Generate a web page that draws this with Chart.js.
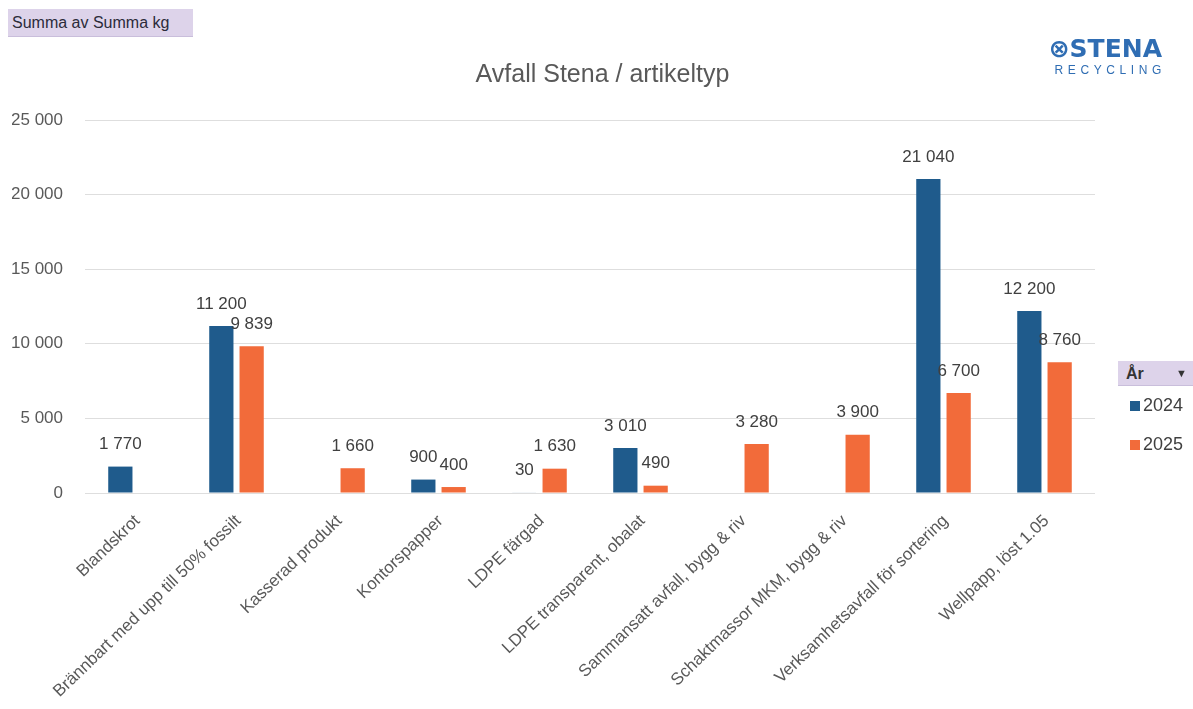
<!DOCTYPE html>
<html><head><meta charset="utf-8">
<script src="https://cdn.jsdelivr.net/npm/chart.js@4.4.1/dist/chart.umd.min.js"></script>
<style>
html,body{margin:0;padding:0;background:#fff;}
#wrap{position:relative;width:1193px;height:709px;font-family:"Liberation Sans",Arial,sans-serif;}
canvas{position:absolute;left:0;top:0;}
.btn{position:absolute;background:#ddd3ea;color:#2b2b3a;font-size:16px;border-bottom:1px solid #c9bedb;}
#logo{position:absolute;left:1040px;top:36px;width:122px;text-align:right;color:#2f6db3;}
#logo .a{font-size:25px;font-weight:bold;line-height:26px;font-family:"DejaVu Sans",sans-serif;}
#logo .b{font-size:12px;letter-spacing:4.6px;line-height:16px;margin-right:-4px;}
.leg{position:absolute;left:1130px;font-size:18px;color:#404040;}
.leg span{display:inline-block;width:10px;height:10px;margin-right:3px;}
</style></head>
<body><div id="wrap">
<canvas id="c" width="1193" height="709"></canvas>
<div class="btn" style="left:8px;top:9px;width:185px;height:28px;line-height:28px;padding-left:4px;box-sizing:border-box;">Summa av Summa kg</div>
<div id="logo"><div class="a">⊗STENA</div><div class="b">RECYCLING</div></div>
<div class="btn" style="left:1118px;top:361px;width:75px;height:25px;line-height:25px;box-sizing:border-box;padding-left:8px;font-weight:bold;color:#333;">År<span style="position:absolute;right:6px;font-size:11px;font-weight:normal;">▼</span></div>
<div id="legend"></div>
</div>
<script>
const categories = ["Blandskrot","Brännbart med upp till 50% fossilt","Kasserad produkt","Kontorspapper","LDPE färgad","LDPE transparent, obalat","Sammansatt avfall, bygg & riv","Schaktmassor MKM, bygg & riv","Verksamhetsavfall för sortering","Wellpapp, löst 1.05"];
const seriesNames = ["2024","2025"];
const values2024 = [1770,11200,null,900,30,3010,null,null,21040,12200];
const values2025 = [null,9839,1660,400,1630,490,3280,3900,6700,8760];
const yTicks = [0,5000,10000,15000,20000,25000];
const colors = ["#1f5b8c","#f26b3a"];

function fmtTick(v){return String(v).replace(/\B(?=(\d{3})+(?!\d))/g," ");}

const legendEl=document.getElementById('legend');
seriesNames.forEach((n,i)=>{
  const d=document.createElement('div');d.className='leg';d.style.top=(395+i*39)+'px';
  d.innerHTML='<span style="background:'+colors[i]+'"></span>'+n;legendEl.appendChild(d);
});

const valueLabels={id:'valueLabels',afterDatasetsDraw(chart){
  const ctx=chart.ctx;ctx.save();
  ctx.font='17px "Liberation Sans", Arial, sans-serif';ctx.fillStyle='#404040';
  ctx.textAlign='center';ctx.textBaseline='middle';
  chart.data.datasets.forEach((ds,di)=>{
    const meta=chart.getDatasetMeta(di);
    meta.data.forEach((bar,i)=>{
      const v=ds.data[i]; if(v===null||v===undefined) return;
      ctx.fillText(fmtTick(v),bar.x,bar.y-22);
    });
  });
  ctx.restore();
}};

const FONT='"Liberation Sans", Arial, sans-serif';
new Chart(document.getElementById('c'),{
  type:'bar',
  data:{labels:categories,datasets:[
    {label:seriesNames[0],data:values2024,backgroundColor:colors[0]},
    {label:seriesNames[1],data:values2025,backgroundColor:colors[1]}
  ]},
  options:{
    responsive:false,animation:false,
    layout:{padding:{left:12,right:0,top:0,bottom:0}},
    datasets:{bar:{categoryPercentage:0.6,barPercentage:0.8}},
    plugins:{
      legend:{display:false},tooltip:{enabled:false},
      title:{display:true,text:'Avfall Stena / artikeltyp',color:'#595959',
        font:{size:25,family:FONT,weight:'normal',lineHeight:1.2},
        padding:{top:60,bottom:30}}
    },
    scales:{
      x:{grid:{display:false},border:{display:false},
        ticks:{color:'#595959',font:{size:17,family:FONT},maxRotation:44,minRotation:44,padding:10,labelOffset:2,autoSkip:false},
        afterFit(s){s.height=216;}},
      y:{min:0,max:25000,border:{display:false},
        grid:{color:'#dedede',drawTicks:false},
        afterBuildTicks(s){s.ticks=yTicks.map(v=>({value:v}));},
        ticks:{color:'#595959',font:{size:17,family:FONT},padding:22,callback:v=>fmtTick(v)},
        afterFit(s){s.width=73;}},
      yR:{position:'right',display:true,grid:{display:false},border:{display:false},ticks:{display:false},
        afterFit(s){s.width=98;}}
    }
  },
  plugins:[valueLabels]
});
</script>
</body></html>
